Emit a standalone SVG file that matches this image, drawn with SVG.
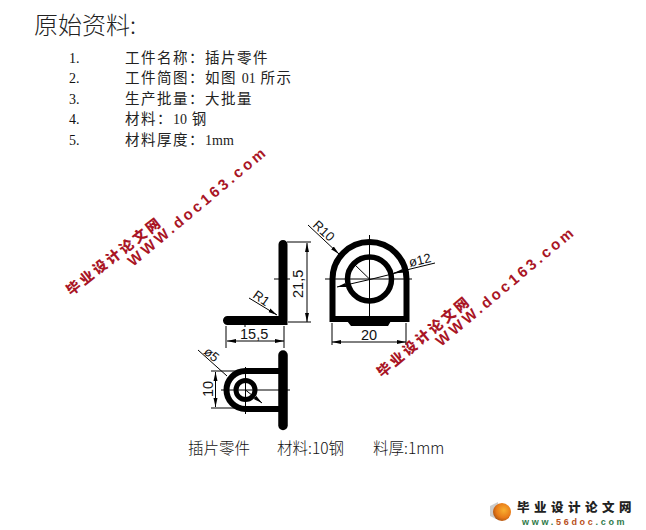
<svg xmlns="http://www.w3.org/2000/svg" width="646" height="530" viewBox="0 0 646 530">
<style>
.t{font-family:"Noto Sans CJK SC","Liberation Serif",serif;fill:#222;font-weight:300}
.l{font-size:14.5px;letter-spacing:1.5px;font-weight:400}
.l tspan{font-family:"Liberation Serif",serif;font-size:14px;letter-spacing:0}
.n{font-family:"Liberation Serif","Noto Sans CJK SC",serif;fill:#111;font-size:14px}
.d{font-family:"Liberation Sans",sans-serif;fill:#111;font-size:14.5px}
.s{font-size:13px}
.c{font-family:"Noto Sans CJK SC",sans-serif;fill:#111;font-size:15.5px;font-weight:300}
.wm{font-family:"Noto Sans CJK SC",sans-serif;font-weight:900;fill:#a91525;font-size:14px;letter-spacing:2.8px}
.wu{font-family:"Liberation Sans",sans-serif;font-weight:700;fill:#a91525;font-size:15px;letter-spacing:3.2px}
.th{fill:none;stroke:#000;stroke-width:1}
.hv{fill:none;stroke:#000;stroke-linecap:round}
</style>
<defs>
<marker id="a" markerWidth="10" markerHeight="6" refX="9" refY="3" orient="auto-start-reverse" markerUnits="userSpaceOnUse"><path d="M0 1 L9 3 L0 5 Z" fill="#000"/></marker>
<radialGradient id="f" cx="0.6" cy="0.4" r="0.7"><stop offset="0" stop-color="#f8b030"/><stop offset="0.6" stop-color="#e87a18"/><stop offset="1" stop-color="#a04a10"/></radialGradient>
</defs>
<rect width="646" height="530" fill="#fff"/>
<g id="heading">
<text class="t" x="34" y="34" font-size="24">原始资料:</text>
</g>
<g id="list">
<text class="n" x="69" y="63">1.</text><text class="t l" x="125" y="63">工件名称：插片零件</text>
<text class="n" x="69" y="83">2.</text><text class="t l" x="125" y="83">工件简图：如图 <tspan>01</tspan> 所示</text>
<text class="n" x="69" y="104">3.</text><text class="t l" x="125" y="104">生产批量：大批量</text>
<text class="n" x="69" y="124">4.</text><text class="t l" x="125" y="124">材料：<tspan>10</tspan> 钢</text>
<text class="n" x="69" y="145">5.</text><text class="t l" x="125" y="145">材料厚度：<tspan>1mm</tspan></text>
</g>
<g id="side-view">
<path class="hv" stroke-width="9" d="M283 244.500V320.500H227.500"/>
</g>
<g id="front-view">
<path class="hv" stroke-width="6" stroke-linecap="butt" d="M332.500 319V279A37 37 0 0 1 406.500 279V319Z"/>
<path d="M347 321H391L388 326H351Z" fill="#000"/>
<circle cx="369.500" cy="279" r="22" fill="none" stroke="#000" stroke-width="5.500"/>
</g>
<g id="bottom-view">
<path class="hv" stroke-width="9.500" d="M283 355V425.500"/>
<path class="hv" stroke-width="6" stroke-linecap="butt" d="M279 371H245.500A19 19 0 0 0 245.500 409H279"/>
<circle cx="245.500" cy="390" r="9.500" fill="none" stroke="#000" stroke-width="5"/>
</g>
<g id="connectors">
<path class="th" d="M274 279H290M245 316V327"/>
<path class="th" d="M287 242H311M288 322H311"/>
<path class="th" d="M307 243V322" marker-start="url(#a)" marker-end="url(#a)"/>
<path class="th" d="M226 326V348M284 326V348"/>
<path class="th" d="M227 341H284" marker-start="url(#a)" marker-end="url(#a)"/>
<path class="th" d="M249 298L277 315" marker-end="url(#a)"/>
<path class="th" d="M369.500 235V322M325 279H412"/>
<path class="th" d="M332 323V345M406 323V345"/>
<path class="th" d="M332 342H406" marker-start="url(#a)" marker-end="url(#a)"/>
<path class="th" d="M308 225L339 254" marker-end="url(#a)"/>
<path class="th" d="M369.500 279L353 263"/>
<path class="th" d="M372 279L337 287" marker-end="url(#a)"/>
<path class="th" d="M372 279L408 270"/>
<path class="th" d="M435 263L394 273" marker-end="url(#a)"/>
<path class="th" d="M221 390H290M245.500 367V414"/>
<path class="th" d="M211 371H245M211 408H245"/>
<path class="th" d="M215.500 372V407" marker-start="url(#a)" marker-end="url(#a)"/>
<path class="th" d="M198 350L227 376"/>
<path class="th" d="M245.500 390L262 403" marker-end="url(#a)"/>
</g>
<g id="dimensions">
<text class="d" transform="translate(303 298) rotate(-90)">21,5</text>
<text class="d" x="240" y="339">15,5</text>
<text class="d" x="361" y="340">20</text>
<text class="d s" transform="translate(252 297) rotate(35)">R1</text>
<text class="d s" transform="translate(312 226) rotate(43)">R10</text>
<text class="d s" transform="translate(410 267) rotate(-13)">ø12</text>
<text class="d" transform="translate(213 397) rotate(-90)">10</text>
<text class="d s" transform="translate(203 353) rotate(40)">ø5</text>
</g>
<g id="caption">
<text class="c" x="188" y="454">插片零件</text>
<text class="c" x="277" y="454">材料:10钢</text>
<text class="c" x="373" y="454">料厚:1mm</text>
</g>
<g id="watermarks">
<text class="wm" transform="translate(71 296) rotate(-38)">毕业设计论文网</text>
<text class="wu" transform="translate(133 267) rotate(-40)">WWW.doc163.com</text>
<text class="wm" transform="translate(382 378) rotate(-40)">毕业设计论文网</text>
<text class="wu" transform="translate(441 347) rotate(-40)">WWW.doc163.com</text>
</g>
<g id="logo">
<path d="M490 506L498 502L498 520L490 516Z" fill="#ccc"/>
<ellipse cx="502" cy="512" rx="9" ry="9" fill="url(#f)"/>
<text x="517" y="512" font-family="Noto Sans CJK SC,sans-serif" font-weight="900" font-size="12.500" letter-spacing="4.500" fill="#222">毕业设计论文网</text>
<text x="522" y="525" font-family="Liberation Sans,sans-serif" font-weight="700" font-size="9" letter-spacing="2.700" fill="#2f7a4a">www.<tspan fill="#b8501a">56doc</tspan>.com</text>
</g>
</svg>
